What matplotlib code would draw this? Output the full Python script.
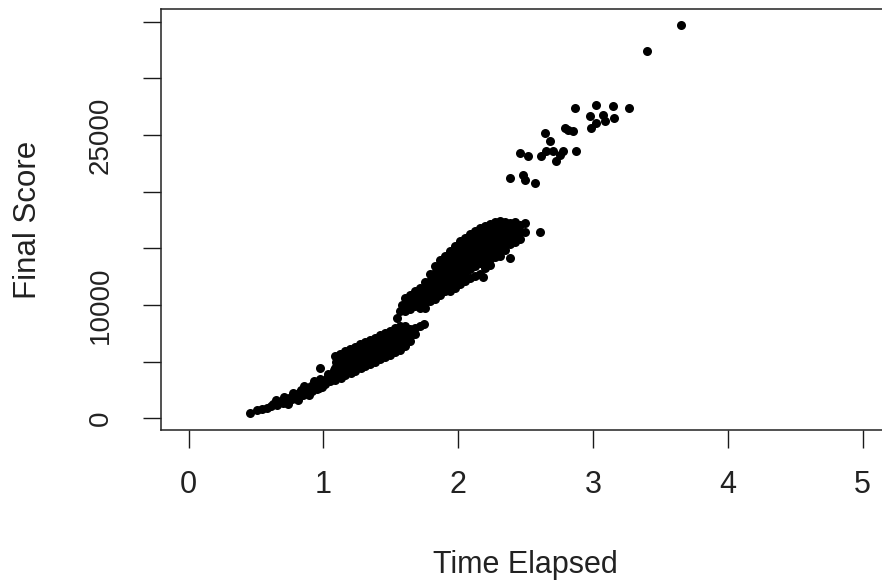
import matplotlib
matplotlib.use("Agg")
import matplotlib.pyplot as plt
import numpy as np

plt.rcParams['font.family'] = ['Liberation Sans', 'DejaVu Sans']

# ---- data ----
tail_time = [0.455, 0.506, 0.543, 0.580, 0.610, 0.625, 0.654, 0.676, 0.698, 0.721,
             0.743, 0.765, 0.780, 0.802, 0.817, 0.831, 0.846, 0.868, 0.883, 0.905,
             0.913, 0.935, 0.950, 0.965, 0.979, 0.987, 1.009, 1.024, 0.979, 1.038,
             1.053, 1.068, 1.083,
             0.647, 0.706, 0.772, 0.854, 0.928, 0.965, 0.809, 0.735, 0.891]
tail_score = [468, 733, 822, 910, 1087, 1264, 1175, 1440, 1352, 1617,
              1793, 1705, 2058, 1882, 2235, 2500, 2058, 2323, 2677, 2853,
              2412, 3030, 2588, 3207, 3472, 2765, 3030, 3560, 4443, 3913,
              3295, 3737, 4267,
              1617, 1882, 2235, 2853, 3295, 2677, 1617, 1264, 2058]

low_time = [1.090, 1.092, 1.088, 1.093, 1.089,
            1.127, 1.125, 1.129, 1.126, 1.128,
            1.164, 1.166, 1.162, 1.165, 1.163,
            1.201, 1.199, 1.203, 1.200, 1.202,
            1.238, 1.240, 1.236, 1.239, 1.237,
            1.275, 1.273, 1.277, 1.274, 1.276,
            1.312, 1.314, 1.310, 1.313, 1.311,
            1.349, 1.347, 1.351, 1.348, 1.350,
            1.386, 1.388, 1.384, 1.387, 1.385,
            1.423, 1.421, 1.425, 1.422, 1.424,
            1.460, 1.462, 1.458, 1.461, 1.459,
            1.497, 1.495, 1.499, 1.496, 1.498,
            1.534, 1.536, 1.532, 1.535, 1.533,
            1.571, 1.569, 1.573, 1.570, 1.572,
            1.608, 1.610, 1.606, 1.609,
            1.645, 1.647, 1.643,
            1.681, 1.683,
            1.719, 1.748,
            1.548, 1.571, 1.585]
low_score = [5504, 4973, 4443, 3913, 3383,
             5680, 5150, 4620, 4090, 3560,
             5945, 5415, 4885, 4355, 3825,
             6122, 5592, 5062, 4532, 4002,
             6299, 5769, 5238, 4708, 4178,
             6564, 6034, 5504, 4973, 4443,
             6740, 6210, 5680, 5150, 4620,
             6917, 6387, 5857, 5327, 4797,
             7094, 6564, 6034, 5504, 4973,
             7359, 6829, 6299, 5769, 5238,
             7535, 7005, 6475, 5945, 5415,
             7712, 7182, 6652, 6122, 5592,
             7977, 7447, 6917, 6387, 5857,
             8153, 7624, 7094, 6564, 6034,
             8153, 7535, 6917, 6387,
             7889, 7359, 6829,
             7977, 7447,
             8153, 8330,
             8861, 9479, 10009]

mid_time = [1.608, 1.608, 1.608,
            1.645, 1.645, 1.645,
            1.681, 1.681, 1.681,
            1.719, 1.719, 1.719, 1.719,
            1.756, 1.756, 1.756, 1.756, 1.756,
            1.792, 1.792, 1.792, 1.792, 1.792,
            1.829, 1.829, 1.829, 1.829, 1.829, 1.829,
            1.866, 1.866, 1.866, 1.866, 1.866, 1.866,
            1.903, 1.903, 1.903, 1.903, 1.903, 1.903,
            1.940, 1.940, 1.940, 1.940, 1.940, 1.940, 1.940,
            1.977, 1.977, 1.977, 1.977, 1.977, 1.977, 1.977,
            2.014, 2.014, 2.014, 2.014, 2.014, 2.014, 2.014,
            2.051, 2.051, 2.051, 2.051, 2.051, 2.051, 2.051,
            2.088, 2.088, 2.088, 2.088, 2.088, 2.088, 2.088,
            2.125, 2.125, 2.125, 2.125, 2.125, 2.125, 2.125,
            2.162, 2.162, 2.162, 2.162, 2.162, 2.162, 2.162,
            2.184,
            2.199, 2.199, 2.199, 2.199, 2.199, 2.199, 2.199,
            2.236, 2.236, 2.236, 2.236, 2.236, 2.236, 2.236,
            2.273, 2.273, 2.273, 2.273, 2.273, 2.273,
            2.310, 2.310, 2.310, 2.310, 2.310, 2.310,
            2.347, 2.347, 2.347, 2.347, 2.347,
            2.384, 2.384, 2.384, 2.384, 2.384,
            2.421, 2.421, 2.421, 2.421,
            2.457, 2.457, 2.457,
            2.494, 2.494,
            2.605]
mid_score = [10627, 10009, 9479,
             10892, 10274, 9656,
             11246, 10627, 9921,
             11510, 10892, 10274, 9744,
             12040, 11422, 10804, 10185, 9744,
             12747, 12129, 11510, 10892, 10362,
             13454, 12835, 12217, 11599, 10981, 10539,
             13984, 13365, 12747, 12129, 11510, 10892,
             14337, 13719, 13100, 12482, 11864, 11246,
             14779, 14160, 13542, 12924, 12305, 11687, 11246,
             15220, 14602, 13984, 13365, 12747, 12129, 11510,
             15662, 15044, 14425, 13807, 13189, 12570, 11864,
             15927, 15309, 14690, 14072, 13454, 12835, 12129,
             16281, 15662, 15044, 14425, 13807, 13189, 12394,
             16546, 15927, 15309, 14690, 14072, 13454, 12570,
             16811, 16192, 15574, 14955, 14337, 13719, 12747,
             12482,
             16988, 16369, 15750, 15132, 14514, 13895, 13277,
             17165, 16546, 15927, 15309, 14690, 14072, 13542,
             17341, 16723, 16104, 15485, 14867, 14249,
             17430, 16811, 16192, 15574, 14955, 14337,
             17341, 16723, 16104, 15485, 14867,
             17253, 16634, 16016, 15397, 14134,
             17341, 16723, 16104, 15574,
             17076, 16458, 15839,
             17253, 16458,
             16484]

high_time = [2.384, 2.482, 2.494, 2.568,
             2.458, 2.519, 2.618, 2.655, 2.704, 2.754, 2.778, 2.877, 2.729,
             2.642, 2.679, 2.790, 2.815, 2.851,
             2.987, 3.024, 3.086, 2.975, 3.073, 3.160,
             2.864, 3.024, 3.147, 3.271,
             3.404, 3.657]
high_score = [21202, 21493, 21051, 20760,
              23410, 23110, 23110, 23551, 23551, 23260, 23551, 23551, 22668,
              25177, 24435, 25645, 25468, 25318,
              25619, 26060, 26202, 26643, 26794, 26502,
              27385, 27677, 27527, 27385,
              32385, 34682]

time_elapsed = tail_time + low_time + mid_time + high_time
final_score = tail_score + low_score + mid_score + high_score

x_ticks = [0, 1, 2, 3, 4, 5]
y_ticks = [0, 5000, 10000, 15000, 20000, 25000, 30000, 35000]
y_tick_labels = ['0', '', '10000', '', '', '25000', '', '']

# ---- figure ----
W, H = 882, 584
fig = plt.figure(figsize=(W / 100, H / 100), dpi=100)
left_px, right_px, top_px, bottom_px = 161, 889.5, 9.3, 430
ax = fig.add_axes([left_px / W, 1 - bottom_px / H,
                   (right_px - left_px) / W, (bottom_px - top_px) / H])

ax.plot(time_elapsed, final_score, 'o', color='black', markersize=6.5,
        markeredgewidth=0, clip_on=False)

ax.set_xlim(-0.204, 5.2)
ax.set_ylim(-1032, 36092)

ax.set_xticks(x_ticks)
ax.set_xticklabels([str(t) for t in x_ticks], fontsize=22)
ax.set_yticks(y_ticks)
ax.set_yticklabels(y_tick_labels, fontsize=20, rotation=90, va='center')

ax.tick_params(axis='x', length=13, width=1.0, pad=16, colors='#1a1a1a')
ax.tick_params(axis='y', length=13, width=1.0, pad=21, colors='#1a1a1a')
for lab in ax.get_xticklabels() + ax.get_yticklabels():
    lab.set_color('#222222')

for side in ['left', 'bottom', 'top']:
    ax.spines[side].set_linewidth(1.1)
    ax.spines[side].set_color('#222222')
ax.spines['right'].set_visible(False)

fig.text(525 / W, 1 - 565 / H, 'Time Elapsed', ha='center', va='center',
         fontsize=22, color='#222222')
fig.text(28.5 / W, 1 - 219.7 / H, 'Final Score', ha='center', va='center',
         rotation=90, fontsize=22.5, color='#222222')

fig.savefig('out.png', dpi=100)
